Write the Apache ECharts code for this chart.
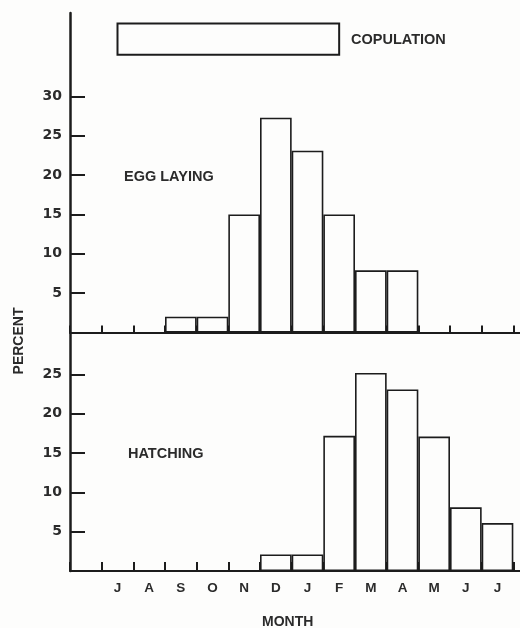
<!DOCTYPE html>
<html>
<head>
<meta charset="utf-8">
<title>Egg laying and hatching by month</title>
<script src="https://cdn.jsdelivr.net/npm/echarts@6/dist/echarts.min.js"></script>
<style>
    html, body { margin: 0; padding: 0; background: #fdfdfc; }
    #chart { width: 520px; height: 628px; }
</style>
</head>
<body>
<div id="chart"></div>
<script>
// month slots along the x axis (first and last slots carry no label)
const months = ['', 'J', 'A', 'S', 'O', 'N', 'D', 'J', 'F', 'M', 'A', 'M', 'J', 'J', ''];

// percent per month (null = no bar)
const eggLaying = [null, null, null, 2, 2, 15.0, 27.3, 23.1, 15.0, 7.9, 7.9, null, null, null, null];
const hatching  = [null, null, null, null, null, null, 2.1, 2.1, 17.2, 25.2, 23.1, 17.1, 8.1, 6.1, null];

// copulation period: from month slot 1 to slot 8, drawn as a band at the top
const copulationSpan = [1, 8];
const copulationBand = [35.3, 39.25];

// tick labels on the percent axes
const topTicks = [5, 10, 15, 20, 25, 30];
const bottomTicks = [5, 10, 15, 20, 25];

const INK = '#1c1c1c';
const TEXT = '#2b2b2b';
const LETTER = '"Liberation Sans", Arial, sans-serif';
const DIGIT = '"DejaVu Sans", sans-serif';

const chart = echarts.init(document.getElementById('chart'), null, { renderer: 'canvas' });

function xAxisFor(gridIndex, showLabels) {
    return {
        type: 'category',
        gridIndex: gridIndex,
        data: months,
        boundaryGap: true,
        axisLine: { show: true, lineStyle: { color: INK, width: 2 } },
        axisTick: { show: true, inside: true, length: gridIndex === 0 ? 7 : 9, lineStyle: { color: INK, width: 2 } },
        axisLabel: {
            show: showLabels,
            margin: 10,
            color: TEXT,
            fontFamily: LETTER,
            fontWeight: 'bold',
            fontSize: 13.5
        },
        splitLine: { show: false }
    };
}

function yAxisFor(gridIndex, max, ticks) {
    return {
        type: 'value',
        gridIndex: gridIndex,
        min: 0,
        max: max,
        axisLine: { show: true, lineStyle: { color: INK, width: 2.5 } },
        axisTick: { show: true, inside: true, length: 15, customValues: ticks, lineStyle: { color: INK, width: 2 } },
        axisLabel: {
            show: true,
            customValues: ticks,
            margin: 8,
            color: TEXT,
            fontFamily: DIGIT,
            fontWeight: 'bold',
            fontSize: 14
        },
        splitLine: { show: false }
    };
}

const barStyle = {
    color: '#fdfdfc',
    borderColor: INK,
    borderWidth: 1.6
};

const option = {
    backgroundColor: '#fdfdfc',
    animation: false,
    grid: [
        { left: 70, width: 475, top: 13, height: 319.5, outerBoundsMode: 'none', containLabel: false },
        { left: 70, width: 475, top: 333, height: 238, outerBoundsMode: 'none', containLabel: false }
    ],
    xAxis: [xAxisFor(0, false), xAxisFor(1, true)],
    yAxis: [yAxisFor(0, 40.6, topTicks), yAxisFor(1, 30.28, bottomTicks)],
    series: [
        {
            name: 'EGG LAYING',
            type: 'bar',
            xAxisIndex: 0,
            yAxisIndex: 0,
            barWidth: '100%',
            data: eggLaying,
            itemStyle: barStyle
        },
        {
            name: 'HATCHING',
            type: 'bar',
            xAxisIndex: 1,
            yAxisIndex: 1,
            barWidth: '100%',
            data: hatching,
            itemStyle: barStyle
        },
        {
            name: 'COPULATION',
            type: 'custom',
            xAxisIndex: 0,
            yAxisIndex: 0,
            encode: { x: [0, 1], y: [2, 3] },
            data: [[copulationSpan[0], copulationSpan[1], copulationBand[0], copulationBand[1]]],
            renderItem: function(params, api) {
                const p0 = api.coord([api.value(0), api.value(3)]);
                const p1 = api.coord([api.value(1), api.value(2)]);
                return {
                    type: 'rect',
                    shape: { x: p0[0], y: p0[1], width: p1[0] - p0[0], height: p1[1] - p0[1] },
                    style: { fill: '#fdfdfc', stroke: INK, lineWidth: 2 }
                };
            }
        }
    ],
    graphic: [
        {
            type: 'text', left: 351, top: 32,
            style: { text: 'COPULATION', fill: TEXT, font: 'bold 14.5px ' + LETTER }
        },
        {
            type: 'text', left: 124, top: 169,
            style: { text: 'EGG LAYING', fill: TEXT, font: 'bold 14.5px ' + LETTER }
        },
        {
            type: 'text', left: 128, top: 446,
            style: { text: 'HATCHING', fill: TEXT, font: 'bold 14.5px ' + LETTER }
        },
        {
            type: 'text', left: 262, top: 615,
            style: { text: 'MONTH', fill: TEXT, font: 'bold 14px ' + LETTER }
        },
        {
            type: 'text', x: 19, y: 341, rotation: Math.PI / 2,
            style: { text: 'PERCENT', fill: TEXT, font: 'bold 14px ' + LETTER, align: 'center', verticalAlign: 'middle' }
        }
    ]
};

chart.setOption(option);
</script>
</body>
</html>
